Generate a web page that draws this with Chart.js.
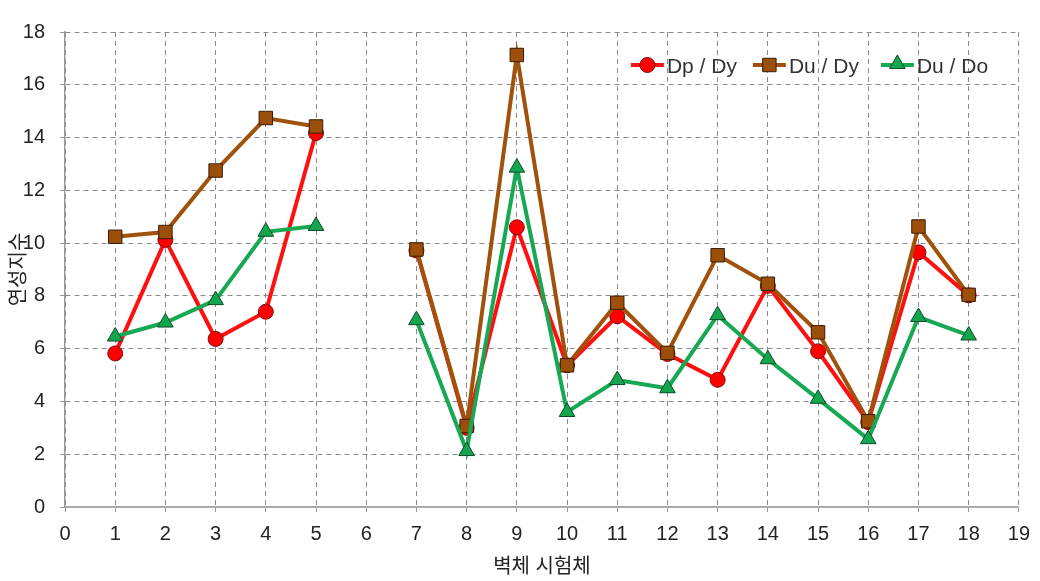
<!DOCTYPE html>
<html>
<head>
<meta charset="utf-8">
<script src="https://cdn.jsdelivr.net/npm/chart.js@4/dist/chart.umd.min.js"></script>
<style>
  html, body { margin: 0; padding: 0; background: #fff; }
  #wrap { width: 1040px; height: 581px; position: relative; }
</style>
</head>
<body>
<div id="wrap"><canvas id="c" width="1040" height="581"></canvas></div>
<script>
// ---- data ----
const specimens = [1, 2, 3, 4, 5, 6, 7, 8, 9, 10, 11, 12, 13, 14, 15, 16, 17, 18];
const dpDy = [5.82, 10.12, 6.37, 7.4, 14.17, null, 9.72, 3.0, 10.6, 5.37, 7.23, 5.8, 4.82, 8.38, 5.9, 3.22, 9.65, 8.02];
const duDy = [10.24, 10.42, 12.75, 14.74, 14.42, null, 9.76, 3.07, 17.13, 5.37, 7.74, 5.84, 9.54, 8.46, 6.62, 3.25, 10.63, 8.04];
const duDo = [6.46, 6.99, 7.84, 10.43, 10.65, null, 7.08, 2.12, 12.86, 3.6, 4.81, 4.5, 7.27, 5.6, 4.1, 2.57, 7.2, 6.5];
const seriesNames = ['Dp / Dy', 'Du / Dy', 'Du / Do'];
const yTicks = [0, 2, 4, 6, 8, 10, 12, 14, 16, 18];
const xTitle = '벽체 시험체';
const yTitle = '연성지수';

const FONT = "'Liberation Sans', 'Noto Sans CJK KR', sans-serif";
const styles = [
  { line: '#FF1010', fill: '#FF0000', edge: '#7a1010', shape: 'circle', r: 7.5 },
  { line: '#A0520C', fill: '#9C4F0A', edge: '#3a1c00', shape: 'rect', r: 9.5 },
  { line: '#17A853', fill: '#14A64F', edge: '#0c4a28', shape: 'triangle', r: 9 }
];
const seriesData = [dpDy, duDy, duDo];

function toPoints(vals) { return specimens.map((x, i) => ({ x: x, y: vals[i] })); }

const datasets = seriesData.map((vals, i) => ({
  label: seriesNames[i],
  data: toPoints(vals),
  borderColor: styles[i].line,
  backgroundColor: styles[i].fill,
  pointBackgroundColor: styles[i].fill,
  pointBorderColor: styles[i].edge,
  pointBorderWidth: 1,
  pointStyle: styles[i].shape,
  pointRadius: styles[i].r,
  pointHoverRadius: styles[i].r,
  borderWidth: 4,
  tension: 0,
  spanGaps: false,
  order: 3 - i
}));

function drawMarker(ctx, shape, x, y, r, fill, edge) {
  ctx.save();
  ctx.fillStyle = fill; ctx.strokeStyle = edge; ctx.lineWidth = 1;
  ctx.beginPath();
  if (shape === 'circle') {
    ctx.arc(x, y, r, 0, Math.PI * 2);
  } else if (shape === 'rect') {
    const s = r * Math.SQRT1_2;
    ctx.rect(x - s, y - s, 2 * s, 2 * s);
  } else {
    ctx.moveTo(x, y - r);
    ctx.lineTo(x + r * 0.866, y + r * 0.5);
    ctx.lineTo(x - r * 0.866, y + r * 0.5);
    ctx.closePath();
  }
  ctx.fill(); ctx.stroke();
  ctx.restore();
}

const legendPlugin = {
  id: 'insideLegend',
  afterDraw(chart) {
    const ctx = chart.ctx;
    const area = chart.chartArea;
    const y = area.top + 33;
    const starts = [area.right - 388, area.right - 266, area.right - 138];
    ctx.save();
    ctx.font = "21px " + FONT;
    ctx.textBaseline = 'middle';
    seriesNames.forEach((name, i) => {
      const x0 = starts[i];
      const st = styles[i];
      ctx.strokeStyle = st.line; ctx.lineWidth = 4; ctx.lineCap = 'butt';
      ctx.beginPath(); ctx.moveTo(x0, y); ctx.lineTo(x0 + 33, y); ctx.stroke();
      drawMarker(ctx, st.shape, x0 + 16.5, y - (st.shape === 'triangle' ? 1 : 0), st.r, st.fill, st.edge);
      ctx.fillStyle = '#333';
      ctx.fillText(name, x0 + 36, y + 2);
    });
    ctx.restore();
  }
};

new Chart(document.getElementById('c'), {
  type: 'line',
  data: { datasets: datasets },
  options: {
    responsive: false,
    animation: false,
    events: [],
    layout: { padding: { top: 32, right: 21, bottom: 0, left: 0 } },
    plugins: { legend: { display: false }, tooltip: { enabled: false } },
    scales: {
      x: {
        type: 'linear',
        min: 0, max: 19,
        afterFit(scale) { scale.height = 74; },
        ticks: { stepSize: 1, color: '#222', font: { family: FONT, size: 20 }, padding: 10, maxRotation: 0, autoSkip: false },
        grid: { color: '#8a8a8a', lineWidth: 1, drawTicks: true, tickLength: 5, tickColor: '#999' },
        border: { display: true, color: '#aaa', width: 2, dash: [5, 4] },
        title: { display: true, text: xTitle, color: '#222', font: { family: FONT, size: 20 }, padding: { top: 0, bottom: 2 } }
      },
      y: {
        type: 'linear',
        min: 0, max: 18,
        afterFit(scale) { scale.width = 65; },
        afterBuildTicks(scale) { scale.ticks = yTicks.map(v => ({ value: v })); },
        ticks: { color: '#222', font: { family: FONT, size: 20 }, padding: 15 },
        grid: { color: '#8a8a8a', lineWidth: 1, drawTicks: true, tickLength: 5, tickColor: '#999' },
        border: { display: true, color: '#999', width: 1.5, dash: [5, 4] },
        title: { display: true, text: yTitle, color: '#222', font: { family: FONT, size: 20 }, padding: { top: 7, bottom: 0 } }
      }
    }
  },
  plugins: [legendPlugin]
});
</script>
</body>
</html>
